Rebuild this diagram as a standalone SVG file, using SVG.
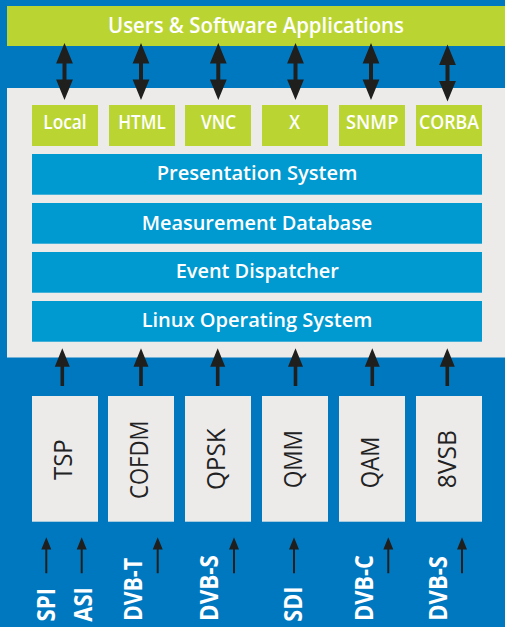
<svg xmlns="http://www.w3.org/2000/svg" width="505" height="627" viewBox="0 0 505 627">
  <style>
    .lbl { font-family: "Open Sans", "Liberation Sans", sans-serif; font-weight: 600; fill: #ffffff; text-anchor: middle; }
    .big { font-size: 21px; }
    .bar { font-size: 20px; }
    .tag { font-size: 19.5px; }
    .mod { font-family: "Open Sans", "Liberation Sans", sans-serif; font-weight: 500; font-size: 26px; fill: #222222; text-anchor: middle; }
    .sig { font-family: "Open Sans", "Liberation Sans", sans-serif; font-weight: 700; font-size: 25.5px; fill: #ffffff; text-anchor: start; }
    .green { fill: #bad532; }
    .layer { fill: #0099d0; }
    .card { fill: #ecebea; }
    .arrow { fill: #1f1f1d; }
  </style>
  <defs>
    <path id="dbl" class="arrow" d="M0,43 L8.4,63.5 L2,63.5 L2,79.5 L8.4,79.5 L0,100 L-8.4,79.5 L-2,79.5 L-2,63.5 L-8.4,63.5 Z"/>
    <path id="up" class="arrow" d="M0,348.3 L7.5,366.8 L1.8,366.8 L1.8,386 L-1.8,386 L-1.8,366.8 L-7.5,366.8 Z"/>
    <path id="thin" class="arrow" d="M0,537.3 L5,549.5 L1,549.5 L1,573.3 L-1,573.3 L-1,549.5 L-5,549.5 Z"/>
  </defs>

  <!-- background -->
  <rect x="0" y="0" width="505" height="627" fill="#0078c0"/>

  <!-- top application bar -->
  <g id="apps">
    <rect class="green" x="7" y="6" width="498" height="40"/>
    <text class="lbl big" x="256" y="33.3" textLength="296" lengthAdjust="spacingAndGlyphs">Users &amp; Software Applications</text>
  </g>

  <!-- software panel -->
  <rect id="panel" class="card" x="7" y="88" width="498" height="269.5"/>

  <g id="local"><rect class="green" x="32" y="105" width="66" height="41"/><text class="lbl tag" x="65" y="129.3" textLength="43.4" lengthAdjust="spacingAndGlyphs">Local</text></g>
  <g id="html"><rect class="green" x="109" y="105" width="66" height="41"/><text class="lbl tag" x="142" y="129.3" textLength="47.5" lengthAdjust="spacingAndGlyphs">HTML</text></g>
  <g id="vnc"><rect class="green" x="185" y="105" width="66" height="41"/><text class="lbl tag" x="218.5" y="129.3" textLength="35" lengthAdjust="spacingAndGlyphs">VNC</text></g>
  <g id="x11"><rect class="green" x="262" y="105" width="66" height="41"/><text class="lbl tag" x="294.7" y="129.3" textLength="10.7" lengthAdjust="spacingAndGlyphs">X</text></g>
  <g id="snmp"><rect class="green" x="339" y="105" width="66" height="41"/><text class="lbl tag" x="372.2" y="129.3" textLength="52.3" lengthAdjust="spacingAndGlyphs">SNMP</text></g>
  <g id="corba"><rect class="green" x="416" y="105" width="66" height="41"/><text class="lbl tag" x="449" y="129.3" textLength="60" lengthAdjust="spacingAndGlyphs">CORBA</text></g>

  <g id="presentation"><rect class="layer" x="32" y="154" width="450" height="40.7"/><text class="lbl bar" x="257" y="179.5" textLength="200.7" lengthAdjust="spacingAndGlyphs">Presentation System</text></g>
  <g id="database"><rect class="layer" x="32" y="203" width="450" height="40.7"/><text class="lbl bar" x="257" y="229.5" textLength="230.7" lengthAdjust="spacingAndGlyphs">Measurement Database</text></g>
  <g id="dispatcher"><rect class="layer" x="32" y="252" width="450" height="40.7"/><text class="lbl bar" x="257.3" y="278.3" textLength="163.3" lengthAdjust="spacingAndGlyphs">Event Dispatcher</text></g>
  <g id="linux"><rect class="layer" x="32" y="301" width="450" height="40.7"/><text class="lbl bar" x="257" y="327.3" textLength="230.7" lengthAdjust="spacingAndGlyphs">Linux Operating System</text></g>

  <!-- front-end modules -->
  <g id="tsp"><rect class="card" x="32" y="396" width="66" height="125.7"/><text class="mod" transform="translate(71.5,459.7) rotate(-90)" textLength="40.7" lengthAdjust="spacingAndGlyphs">TSP</text></g>
  <g id="cofdm"><rect class="card" x="108" y="396" width="66" height="125.7"/><text class="mod" transform="translate(148.3,459.8) rotate(-90)" textLength="78.3" lengthAdjust="spacingAndGlyphs">COFDM</text></g>
  <g id="qpsk"><rect class="card" x="185" y="396" width="66" height="125.7"/><text class="mod" transform="translate(224.5,459.2) rotate(-90)" textLength="61.7" lengthAdjust="spacingAndGlyphs">QPSK</text></g>
  <g id="qmm"><rect class="card" x="262" y="396" width="66" height="125.7"/><text class="mod" transform="translate(301.5,459.2) rotate(-90)" textLength="58.3" lengthAdjust="spacingAndGlyphs">QMM</text></g>
  <g id="qam"><rect class="card" x="339" y="396" width="66" height="125.7"/><text class="mod" transform="translate(378.5,462.5) rotate(-90)" textLength="51.7" lengthAdjust="spacingAndGlyphs">QAM</text></g>
  <g id="vsb"><rect class="card" x="416" y="396" width="66" height="125.7"/><text class="mod" transform="translate(456,459.2) rotate(-90)" textLength="58.3" lengthAdjust="spacingAndGlyphs">8VSB</text></g>

  <!-- input signals -->
  <g id="signals">
    <text class="sig" transform="translate(55,621.5) rotate(-90)" textLength="33.5" lengthAdjust="spacingAndGlyphs">SPI</text>
    <text class="sig" transform="translate(92,621.7) rotate(-90)" textLength="34.4" lengthAdjust="spacingAndGlyphs">ASI</text>
    <text class="sig" transform="translate(142,621) rotate(-90)" textLength="63" lengthAdjust="spacingAndGlyphs">DVB-T</text>
    <text class="sig" transform="translate(218,621) rotate(-90)" textLength="66" lengthAdjust="spacingAndGlyphs">DVB-S</text>
    <text class="sig" transform="translate(302,621.7) rotate(-90)" textLength="35" lengthAdjust="spacingAndGlyphs">SDI</text>
    <text class="sig" transform="translate(373,621) rotate(-90)" textLength="66" lengthAdjust="spacingAndGlyphs">DVB-C</text>
    <text class="sig" transform="translate(447.3,620.7) rotate(-90)" textLength="64.7" lengthAdjust="spacingAndGlyphs">DVB-S</text>
  </g>

  <!-- connectors -->
  <g id="connectors">
    <use href="#dbl" x="64.5"/>
    <use href="#dbl" x="141"/>
    <use href="#dbl" x="218.3"/>
    <use href="#dbl" x="295.5"/>
    <use href="#dbl" x="371"/>
    <use href="#dbl" x="447.5" y="1.5"/>

    <use href="#up" x="62.3"/>
    <use href="#up" x="141"/>
    <use href="#up" x="217.7"/>
    <use href="#up" x="295.5"/>
    <use href="#up" x="372.3"/>
    <use href="#up" x="447.3"/>

    <use href="#thin" x="46.3"/>
    <use href="#thin" x="81.7"/>
    <use href="#thin" x="157.7"/>
    <use href="#thin" x="234"/>
    <use href="#thin" x="294"/>
    <use href="#thin" x="388.3"/>
    <use href="#thin" x="462"/>
  </g>
</svg>
